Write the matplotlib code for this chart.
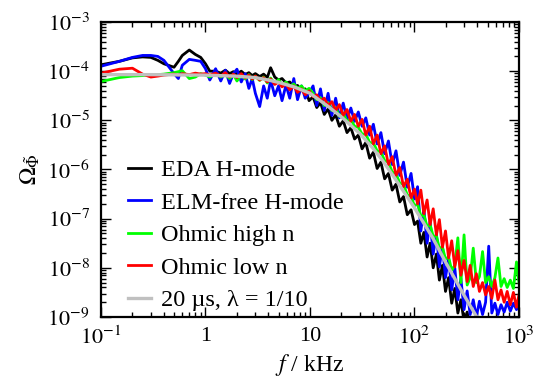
import matplotlib
matplotlib.use("Agg")
import matplotlib.pyplot as plt
import numpy as np

# frequency grid in kHz (shared by the measured spectra)
freq = [
    0.1, 0.15, 0.2, 0.25, 0.3, 0.35, 0.4, 0.5, 0.55, 0.6, 0.7, 0.8, 0.9, 1.0, 1.1,
    1.25, 1.4, 1.55, 1.7, 1.85, 2.0, 2.2, 2.4, 2.6, 2.8, 3.0, 3.3, 3.6, 3.9, 4.2,
    4.6, 5.0, 5.4, 5.9, 6.4, 7.0, 7.6, 8.3, 9.0, 9.8,
    10.7, 11.6, 12.6, 13.7, 14.9, 16.2, 17.6, 19.1, 20.8, 22.6, 24.6, 26.7, 29.0,
    31.5, 34.2, 37.2, 40.4, 43.9, 47.7, 51.8, 56.3, 61.2, 66.5, 72.3, 78.5, 85.3, 92.7,
    100, 107, 115, 123, 132, 141, 151, 162, 173, 185, 198, 212, 227, 243, 260, 278,
    298, 319, 341, 365, 391, 418, 448, 479, 513, 549, 588, 629, 673, 721, 771, 826,
    884, 946, 1000,
]

# log10 of the spectra
eda_log10 = [
    -3.87, -3.80, -3.73, -3.71, -3.72, -3.78, -3.85, -3.92, -3.80, -3.68, -3.57, -3.66, -3.72, -3.85, -4.00,
    -4.00, -4.04, -3.98, -4.05, -4.01, -4.06, -4.00, -4.07, -4.03, -4.09, -4.05, -4.11, -4.06, -4.13, -3.93,
    -4.12, -4.18, -4.15, -4.24, -4.22, -4.31, -4.29, -4.40, -4.36, -4.60,
    -4.52, -4.74, -4.64, -4.88, -4.77, -5.00, -4.89, -5.12, -5.01, -5.25, -5.15, -5.38, -5.30,
    -5.58, -5.45, -5.77, -5.65, -5.98, -5.85, -6.19, -6.08, -6.42, -6.30, -6.66, -6.55, -6.92, -6.82,
    -7.12, -7.05, -7.50, -7.28, -7.78, -7.50, -8.00, -7.72, -8.25, -7.95, -8.48, -8.20, -8.72, -8.42, -8.92, -8.65,
    -9.10, -8.90, -9.20, -9.05, -9.30, -9.25, -9.30, -9.25, -9.35, -9.25, -9.30, -9.25, -9.30, -9.25, -9.30, -9.25,
    -9.30, -9.25, -9.30,
]

elm_free_log10 = [
    -3.90, -3.80, -3.72, -3.68, -3.68, -3.70, -3.78, -4.05, -4.15, -3.88, -3.76, -3.78, -3.80, -3.95, -4.18,
    -3.95, -4.20, -3.98, -4.25, -4.05, -3.96, -4.22, -4.05, -4.35, -4.15, -4.45, -4.72, -4.30, -4.55, -4.18,
    -4.50, -4.30, -4.60, -4.28, -4.55, -4.15, -4.58, -4.30, -4.55, -4.45,
    -4.30, -4.70, -4.36, -4.80, -4.45, -4.90, -4.55, -4.95, -4.65, -4.98, -4.75, -5.02, -4.83,
    -5.12, -4.95, -5.30, -5.08, -5.48, -5.25, -5.68, -5.42, -5.90, -5.62, -6.12, -5.85, -6.36, -6.08,
    -6.60, -6.35, -7.25, -6.80, -7.50, -7.05, -7.72, -7.30, -7.98, -7.55, -8.20, -7.80, -8.45, -8.00, -8.65, -8.22,
    -8.85, -8.47, -8.95, -8.65, -9.00, -8.68, -8.95, -8.70, -7.56, -8.92, -8.72, -8.95, -8.75, -8.90, -8.70, -8.88,
    -8.72, -8.85, -8.78,
]

ohmic_high_log10 = [
    -4.21, -4.13, -4.10, -4.09, -4.07, -4.07, -4.06, -4.03, -4.01, -3.99, -4.15, -4.12, -4.05, -4.08, -4.12,
    -4.05, -4.12, -4.06, -4.15, -4.07, -4.20, -4.08, -4.16, -4.07, -4.17, -4.10, -4.19, -4.12, -4.24, -4.14,
    -4.25, -4.17, -4.28, -4.22, -4.31, -4.26, -4.35, -4.30, -4.40, -4.35,
    -4.45, -4.58, -4.54, -4.70, -4.64, -4.80, -4.74, -4.92, -4.85, -5.02, -4.98, -5.12, -5.14,
    -5.28, -5.28, -5.45, -5.46, -5.62, -5.64, -5.82, -5.85, -6.05, -6.08, -6.28, -6.30, -6.52, -6.55,
    -6.74, -6.70, -6.95, -6.92, -7.16, -7.12, -7.36, -7.35, -7.60, -7.58, -7.82, -7.78, -8.05, -7.95, -7.39, -8.30,
    -7.33, -8.35, -8.20, -7.60, -8.30, -8.18, -7.67, -8.30, -8.18, -8.38, -8.20, -7.80, -8.38, -8.22, -8.40, -8.25,
    -8.42, -7.88, -8.30,
]

ohmic_low_log10 = [
    -4.04, -3.96, -3.94, -4.06, -4.12, -4.10, -4.08, -4.06, -4.08, -4.05, -4.07, -4.04, -4.06, -4.05, -4.08,
    -4.04, -4.10, -4.03, -4.12, -4.06, -4.13, -4.05, -4.14, -4.08, -4.16, -4.10, -4.18, -4.13, -4.22, -4.16,
    -4.27, -4.22, -4.32, -4.26, -4.38, -4.30, -4.43, -4.36, -4.48, -4.40,
    -4.52, -4.48, -4.60, -4.55, -4.70, -4.62, -4.80, -4.68, -4.90, -4.78, -5.02, -4.88, -5.12,
    -4.98, -5.30, -5.12, -5.48, -5.30, -5.68, -5.52, -5.90, -5.74, -6.12, -5.96, -6.35, -6.20, -6.58,
    -6.40, -6.70, -6.42, -6.90, -6.62, -7.12, -6.80, -7.33, -7.02, -7.58, -7.25, -7.80, -7.45, -7.98, -7.65, -8.15,
    -7.85, -8.28, -7.95, -8.38, -8.12, -8.48, -8.30, -8.55, -8.38, -8.62, -8.25, -8.65, -8.45, -8.70, -8.48, -8.75,
    -8.50, -8.80, -8.55,
]

# model spectrum, 20 us, lambda = 1/10
fit_freq = [0.1, 0.3, 1, 2, 3, 4, 5, 7, 10, 15, 20, 30, 40, 50, 70, 100, 150, 200, 300, 400, 450]
fit_omega = [8.5e-5, 8.5e-5, 8.3e-5, 7.9e-5, 7.4e-5, 6.6e-5, 5.9e-5, 4.8e-5, 3.55e-5, 1.9e-5,
             1.17e-5, 5.4e-6, 2.7e-6, 1.48e-6, 5.2e-7, 1.66e-7, 4.0e-8, 1.26e-8, 2.7e-9, 9.5e-10, 6.3e-10]

series = [
    ("EDA H-mode", eda_log10, "#000000"),
    ("ELM-free H-mode", elm_free_log10, "#0000ff"),
    ("Ohmic high n", ohmic_high_log10, "#00ff00"),
    ("Ohmic low n", ohmic_low_log10, "#ff0000"),
]

plt.rcParams["font.family"] = "serif"
plt.rcParams["font.serif"] = ["Liberation Serif", "DejaVu Serif"]
plt.rcParams["mathtext.fontset"] = "stix"

fig = plt.figure(figsize=(5.45, 3.82), dpi=100)
ax = fig.add_axes([0.1853, 0.1702, 0.7670, 0.7722])

for label, values, color in series:
    ax.plot(freq, 10.0 ** np.array(values), color=color, lw=2.0, label=label)
ax.plot(fit_freq, fit_omega, color="#c0c0c0", lw=2.4, label=r"20 µs, λ = 1/10")

ax.set_xscale("log")
ax.set_yscale("log")
ax.set_xlim(0.1, 1000)
ax.set_ylim(1e-9, 1e-3)

ax.set_xticks([0.1, 1, 10, 100, 1000])
ax.set_xticklabels([r"$10^{-1}$", "1", "10", r"$10^{2}$", r"$10^{3}$"])
ax.set_yticks([10.0 ** k for k in range(-9, -2)])
ax.set_yticklabels([r"$10^{%d}$" % k for k in range(-9, -2)])

ax.tick_params(which="both", direction="in", top=True, right=True, labelsize=16, width=1.0)
ax.tick_params(axis="y", which="major", length=7, pad=8)
ax.tick_params(axis="x", which="major", length=7, pad=7)
ax.tick_params(which="minor", length=3.5)
for spine in ax.spines.values():
    spine.set_linewidth(1.6)

ax.set_xlabel(r"$f$ / kHz", fontsize=17, labelpad=2)
ax.set_ylabel(r"$\Omega_{\tilde{\Phi}}$", fontsize=17, labelpad=4)

ax.legend(loc="lower left", bbox_to_anchor=(0.065, 0.02), frameon=False, fontsize=17.5,
          handlelength=0.95, handletextpad=0.4, labelspacing=0.43, borderpad=0, borderaxespad=0)

fig.savefig("out.png", dpi=100)
